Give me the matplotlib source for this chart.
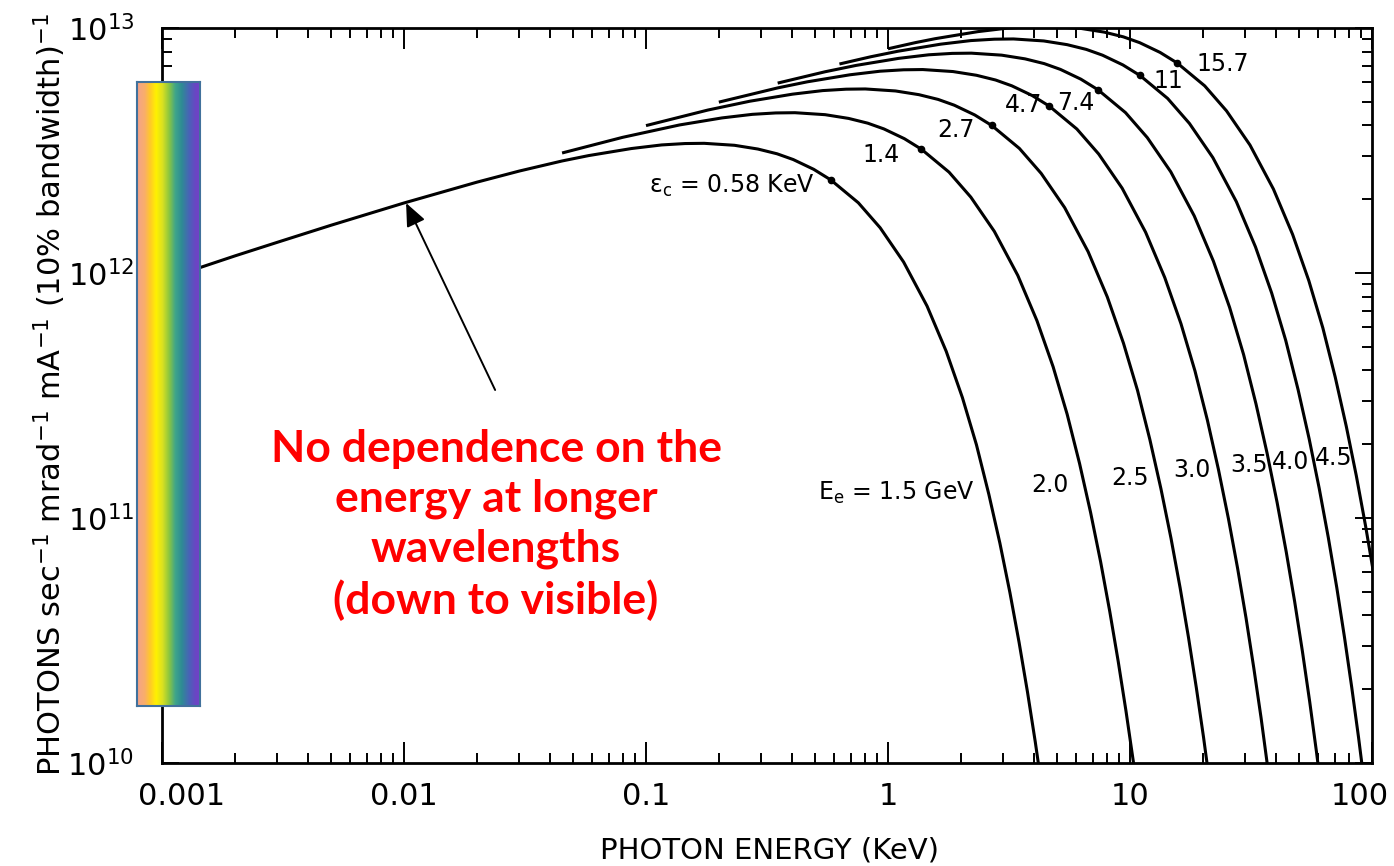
import numpy as np
import matplotlib
matplotlib.use("Agg")
import matplotlib.pyplot as plt
from matplotlib.colors import LinearSegmentedColormap
from matplotlib.ticker import FixedLocator, LogLocator, NullFormatter, FixedFormatter
from matplotlib.transforms import ScaledTranslation

plt.rcParams['font.family'] = ['DejaVu Sans']
plt.rcParams['mathtext.default'] = 'regular'

# ---------------- data ----------------
e_15 = [0.001, 0.002, 0.003, 0.005, 0.01, 0.02, 0.03, 0.045, 0.058, 0.087, 0.116, 0.145, 0.174,
        0.232, 0.29, 0.348, 0.406, 0.493, 0.58, 0.754, 0.928, 1.16, 1.45, 1.74, 2.03, 2.32, 2.61,
        2.9, 3.19, 3.48, 3.77, 4.06, 4.35]
f_15 = [9.34e11, 1.174e12, 1.335e12, 1.567e12, 1.931e12, 2.348e12, 2.608e12, 2.866e12, 3.015e12,
        3.221e12, 3.332e12, 3.376e12, 3.383e12, 3.321e12, 3.206e12, 3.066e12, 2.904e12, 2.650e12,
        2.399e12, 1.935e12, 1.530e12, 1.109e12, 7.33e11, 4.79e11, 3.10e11, 1.99e11, 1.25e11,
        7.89e10, 4.96e10, 3.11e10, 1.95e10, 1.22e10, 7.6e9]

e_20 = [0.045, 0.08, 0.1375, 0.206, 0.275, 0.34375, 0.4125, 0.55, 0.6875, 0.825, 0.9625, 1.169,
        1.375, 1.7875, 2.2, 2.75, 3.4375, 4.125, 4.8125, 5.5, 6.1875, 6.875, 7.5625, 8.25,
        8.9375, 9.625, 10.3125, 11.0]
f_20 = [3.089e12, 3.578e12, 4.020e12, 4.295e12, 4.442e12, 4.501e12, 4.511e12, 4.428e12, 4.275e12,
        4.088e12, 3.872e12, 3.533e12, 3.199e12, 2.580e12, 2.039e12, 1.479e12, 9.78e11, 6.39e11,
        4.14e11, 2.65e11, 1.67e11, 1.052e11, 6.62e10, 4.15e10, 2.60e10, 1.63e10, 1.02e10, 6.3e9]

e_25 = [0.1, 0.18, 0.2685, 0.4028, 0.537, 0.67125, 0.8055, 1.074, 1.3425, 1.611, 1.8795, 2.282,
        2.685, 3.4905, 4.296, 5.37, 6.7125, 8.055, 9.3975, 10.74, 12.08, 13.425, 14.77, 16.11,
        17.45, 18.795, 20.14, 21.48]
f_25 = [3.996e12, 4.624e12, 5.025e12, 5.369e12, 5.553e12, 5.627e12, 5.639e12, 5.534e12, 5.344e12,
        5.111e12, 4.840e12, 4.417e12, 3.999e12, 3.225e12, 2.549e12, 1.849e12, 1.222e12, 7.99e11,
        5.17e11, 3.32e11, 2.09e11, 1.315e11, 8.27e10, 5.19e10, 3.25e10, 2.03e10, 1.27e10, 7.9e9]

e_30 = [0.2, 0.35, 0.464, 0.696, 0.928, 1.16, 1.392, 1.856, 2.32, 2.784, 3.248, 3.944, 4.64,
        6.032, 7.424, 9.28, 11.6, 13.92, 16.24, 18.56, 20.88, 23.2, 25.52, 27.84, 30.16, 32.48,
        34.8, 37.12, 39.44]
f_30 = [4.982e12, 5.695e12, 6.030e12, 6.442e12, 6.663e12, 6.752e12, 6.767e12, 6.641e12, 6.413e12,
        6.133e12, 5.808e12, 5.300e12, 4.799e12, 3.870e12, 3.059e12, 2.219e12, 1.467e12, 9.58e11,
        6.21e11, 3.98e11, 2.51e11, 1.577e11, 9.92e10, 6.23e10, 3.91e10, 2.44e10, 1.53e10, 9.5e9,
        5.9e9]

e_35 = [0.35, 0.55, 0.737, 1.1055, 1.474, 1.8425, 2.211, 2.948, 3.685, 4.422, 5.159, 6.2645,
        7.37, 9.581, 11.79, 14.74, 18.425, 22.11, 25.795, 29.48, 33.165, 36.85, 40.535, 44.22,
        47.905, 51.59, 55.275, 58.96, 62.645]
f_35 = [5.958e12, 6.629e12, 7.034e12, 7.516e12, 7.774e12, 7.877e12, 7.894e12, 7.748e12, 7.482e12,
        7.155e12, 6.776e12, 6.183e12, 5.598e12, 4.515e12, 3.569e12, 2.588e12, 1.711e12, 1.118e12,
        7.24e11, 4.64e11, 2.92e11, 1.840e11, 1.158e11, 7.27e10, 4.56e10, 2.85e10, 1.78e10,
        1.11e10, 6.9e9]

e_40 = [0.63, 0.85, 1.1, 1.65, 2.2, 2.75, 3.3, 4.4, 5.5, 6.6, 7.7, 9.35, 11.0, 14.3, 17.6, 22.0,
        27.5, 33.0, 38.5, 44.0, 49.5, 55.0, 60.5, 66.0, 71.5, 77.0, 82.5, 88.0, 93.5]
f_40 = [7.129e12, 7.634e12, 8.039e12, 8.590e12, 8.885e12, 9.002e12, 9.022e12, 8.855e12, 8.550e12,
        8.177e12, 7.745e12, 7.066e12, 6.398e12, 5.160e12, 4.079e12, 2.958e12, 1.956e12, 1.278e12,
        8.28e11, 5.31e11, 3.34e11, 2.103e11, 1.323e11, 8.31e10, 5.21e10, 3.25e10, 2.03e10,
        1.27e10, 7.9e9]

e_45 = [1.0, 1.3, 1.566, 2.349, 3.132, 3.915, 4.698, 6.264, 7.83, 9.396, 10.962, 13.311, 15.66,
        20.358, 25.056, 31.32, 39.15, 46.98, 54.81, 62.64, 70.47, 78.3, 86.13, 93.96, 101.79]
f_45 = [8.226e12, 8.720e12, 9.044e12, 9.663e12, 9.995e12, 1.0128e13, 1.015e13, 9.962e12, 9.619e12,
        9.199e12, 8.713e12, 7.950e12, 7.198e12, 5.805e12, 4.588e12, 3.328e12, 2.200e12, 1.437e12,
        9.31e11, 5.97e11, 3.76e11, 2.366e11, 1.488e11, 9.34e10, 5.86e10]

# critical energies (dots) and their labels
crit_energy = [0.58, 1.375, 2.685, 4.64, 7.37, 11.0, 15.66]
crit_flux = [2.40e12, 3.20e12, 4.00e12, 4.80e12, 5.60e12, 6.40e12, 7.20e12]
crit_labels = ["$\\epsilon_c$ = 0.58 KeV", "1.4", "2.7", "4.7", "7.4", "11", "15.7"]
crit_label_x = [0.50, 1.12, 2.27, 4.33, 7.10, 12.45, 18.9]
crit_label_y = [2.27e12, 3.03e12, 3.84e12, 4.85e12, 4.94e12, 6.08e12, 7.13e12]
crit_label_ha = ["right", "right", "right", "right", "right", "left", "left"]

# electron beam energy labels
beam_text = ["$E_e$ = 1.5 GeV", "2.0", "2.5", "3.0", "3.5", "4.0", "4.5"]
beam_text_x = [2.29, 4.67, 10.0, 18.0, 31.0, 46.2, 69.6]
beam_text_y = [1.265e11, 1.365e11, 1.455e11, 1.57e11, 1.64e11, 1.69e11, 1.76e11]
beam_text_ha = ["right", "center", "center", "center", "center", "center", "center"]

x_tick_vals = [1e-3, 1e-2, 1e-1, 1, 10, 100]
x_tick_labels = ["0.001", "0.01", "0.1", "1", "10", "100"]
y_tick_vals = [1e10, 1e11, 1e12, 1e13]
y_tick_labels = ["$10^{10}$", "$10^{11}$", "$10^{12}$", "$10^{13}$"]

arrow_tip = (0.0102, 1.93e12)
arrow_tail = (0.0238, 3.33e11)

# ---------------- figure ----------------
W, H = 1394, 866
fig = plt.figure(figsize=(W / 100, H / 100), dpi=100)
ax = fig.add_axes([162 / W, 1 - 763 / H, 1210 / W, 735 / H])
ax.set_xscale('log')
ax.set_yscale('log')
ax.set_xlim(1e-3, 100)
ax.set_ylim(1e10, 1e13)

curves = [(e_15, f_15), (e_20, f_20), (e_25, f_25), (e_30, f_30),
          (e_35, f_35), (e_40, f_40), (e_45, f_45)]
for ex, fx in curves:
    ax.plot(ex, fx, color='black', lw=2.2, solid_capstyle='butt',
            solid_joinstyle='round', zorder=3)

ax.plot(crit_energy, crit_flux, 'o', color='black', ms=4.5, zorder=4)
for lab, lx, ly, ha in zip(crit_labels, crit_label_x, crit_label_y, crit_label_ha):
    ax.text(lx, ly, lab, ha=ha, va='center', fontsize=17, color='black')
for lab, lx, ly, ha in zip(beam_text, beam_text_x, beam_text_y, beam_text_ha):
    ax.text(lx, ly, lab, ha=ha, va='center', fontsize=17, color='black')

# ticks
ax.xaxis.set_major_locator(FixedLocator(x_tick_vals))
ax.xaxis.set_major_formatter(FixedFormatter(x_tick_labels))
ax.yaxis.set_major_locator(FixedLocator(y_tick_vals))
ax.yaxis.set_major_formatter(FixedFormatter(y_tick_labels))
ax.xaxis.set_minor_locator(LogLocator(base=10, subs=np.arange(2, 10), numticks=30))
ax.yaxis.set_minor_locator(LogLocator(base=10, subs=np.arange(2, 10), numticks=30))
ax.xaxis.set_minor_formatter(NullFormatter())
ax.yaxis.set_minor_formatter(NullFormatter())
ax.tick_params(which='both', direction='in', top=True, right=True, color='black')
ax.tick_params(axis='x', which='major', length=15, width=1.4, labelsize=22, pad=14)
ax.tick_params(axis='x', which='minor', length=7, width=1.4)
ax.tick_params(axis='y', which='major', length=12, width=1.4, labelsize=22, pad=20)
ax.tick_params(axis='y', which='minor', length=7, width=1.4)
for sp in ax.spines.values():
    sp.set_linewidth(2.0)

fig.canvas.draw()
xl = ax.get_xticklabels()
xl[0].set_transform(xl[0].get_transform() + ScaledTranslation(0.2, 0, fig.dpi_scale_trans))
xl[-1].set_transform(xl[-1].get_transform() + ScaledTranslation(-0.12, 0, fig.dpi_scale_trans))

# axis titles
fig.text(50 / W, 1 - 395 / H,
         "PHOTONS sec$^{-1}$ mrad$^{-1}$ mA$^{-1}$ (10% bandwidth)$^{-1}$",
         rotation=90, ha='center', va='center', fontsize=22)
fig.text(770 / W, 1 - 850 / H, "PHOTON ENERGY (KeV)", ha='center', va='center', fontsize=21)

# annotation
ax.annotate('', xy=arrow_tip, xytext=arrow_tail,
            arrowprops=dict(arrowstyle='-|>,head_length=0.7,head_width=0.3',
                            color='black', lw=1.4, shrinkA=0, shrinkB=0,
                            mutation_scale=20), zorder=5)
fig.text(496 / W, 1 - 525 / H,
         "No dependence on the\nenergy at longer\nwavelengths\n(down to visible)",
         color='#FF0000', fontsize=32, fontweight='bold', family=['Lato', 'DejaVu Sans'],
         ha='center', va='center', multialignment='center', linespacing=1.3)

# spectrum bar
cmap = LinearSegmentedColormap.from_list('spec', [
    (0.00, '#F4A38A'), (0.12, '#F9AE6A'), (0.20, '#FFC72C'), (0.30, '#FFF200'),
    (0.40, '#D9E021'), (0.50, '#8DC63F'), (0.60, '#3FA58A'), (0.70, '#2E8C94'),
    (0.82, '#4A62B8'), (0.92, '#6B45C4'), (1.00, '#7340C8')])
cax = fig.add_axes([137 / W, 1 - 706 / H, 63 / W, 624 / H])
cax.imshow(np.linspace(0, 1, 256)[None, :], aspect='auto', cmap=cmap)
cax.set_xticks([])
cax.set_yticks([])
for sp in cax.spines.values():
    sp.set_color('#41719C')
    sp.set_linewidth(1.5)

fig.savefig('out.png', dpi=100)
